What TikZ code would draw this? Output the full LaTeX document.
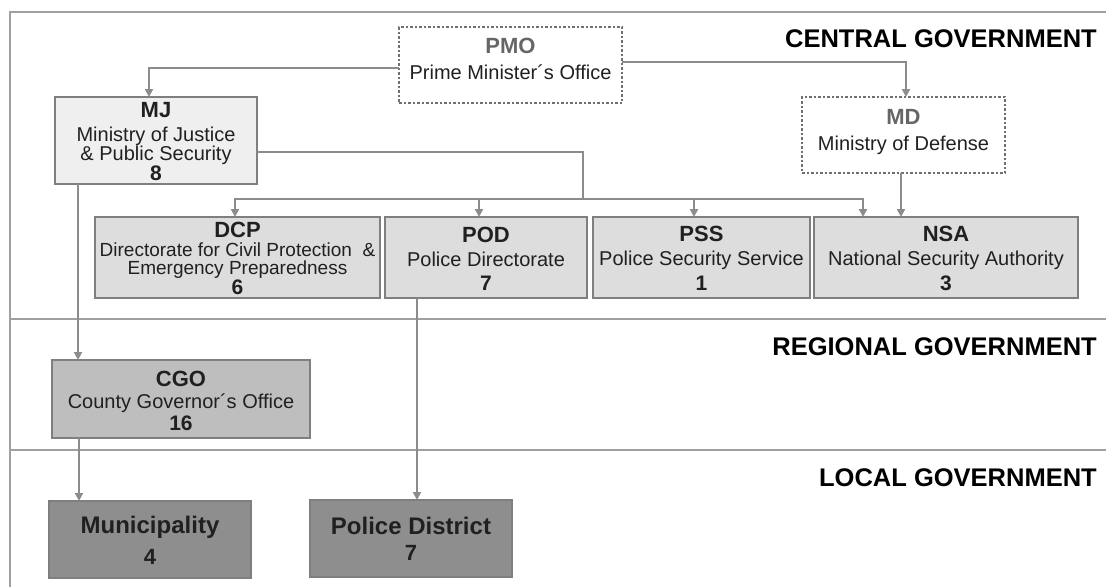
\documentclass[tikz,border=0pt]{standalone}
\usepackage{fontspec}
\setmainfont{Liberation Sans}
\usetikzlibrary{arrows.meta}
\definecolor{framecol}{HTML}{A0A0A0}
\definecolor{boxline}{HTML}{7F7F7F}
\definecolor{dashline}{HTML}{707070}
\definecolor{conncol}{HTML}{8C8C8C}
\definecolor{txtcol}{HTML}{202020}
\definecolor{greytitle}{HTML}{666666}
\definecolor{fillmj}{HTML}{EFEFEF}
\definecolor{fillcen}{HTML}{DDDDDD}
\definecolor{fillreg}{HTML}{BEBEBE}
\definecolor{filloc}{HTML}{8E8E8E}
\newcommand\regfont{\fontsize{20}{18}\selectfont}
\newcommand\smallreg{\fontsize{19}{17}\selectfont}
\newcommand\boxtitle{\fontsize{22}{22}\selectfont\bfseries}
\newcommand\boxnum{\fontsize{21}{21}\selectfont\bfseries}
\newcommand\loctitle{\fontsize{24}{24}\selectfont\bfseries}
\newcommand\locnum{\fontsize{22}{22}\selectfont\bfseries}
\newcommand\levelfont{\fontsize{25.5}{26}\selectfont\bfseries}
\begin{document}
\begin{tikzpicture}[x=1pt,y=-1pt,
  orgbox/.style={draw=boxline, line width=1.4pt, inner sep=0pt, outer sep=0pt},
  dashbox/.style={draw=dashline, line width=1.4pt, dash pattern=on 2.5pt off 2pt, inner sep=0pt, outer sep=0pt, fill=white},
  txt/.style={align=center, inner sep=0pt, text=txtcol, font=\regfont},
  conn/.style={draw=conncol, line width=2pt},
  arr/.style={conn, -{Triangle[length=8pt,width=8pt]}},
  level/.style={anchor=base east, inner sep=0pt, font=\levelfont, text=black},
  frameline/.style={draw=framecol, line width=1.5pt}]
\useasboundingbox (0,0) rectangle (1106,587);
% frame and level separators
\draw[frameline] (10,587) -- (10,12) -- (1106,12);
\draw[frameline] (10,319) -- (1106,319);
\draw[frameline] (10,450) -- (1106,450);
\node[level] (lc) at (1097,47) {CENTRAL GOVERNMENT};
\node[level] (lr) at (1097,355) {REGIONAL GOVERNMENT};
\node[level] (ll) at (1097,486) {LOCAL GOVERNMENT};
% boxes
\node[dashbox, minimum width=223, minimum height=76] (pmo) at (510.5,65) {};
\node[dashbox, minimum width=203, minimum height=76] (md) at (903.5,135) {};
\node[orgbox, fill=fillmj, minimum width=202, minimum height=87] (mj) at (156,140.5) {};
\node[orgbox, fill=fillcen, minimum width=285, minimum height=81] (dcp) at (237.5,257.5) {};
\node[orgbox, fill=fillcen, minimum width=202, minimum height=81] (pod) at (486,257.5) {};
\node[orgbox, fill=fillcen, minimum width=217, minimum height=81] (pss) at (701.5,257.5) {};
\node[orgbox, fill=fillcen, minimum width=264, minimum height=81] (nsa) at (946,257.5) {};
\node[orgbox, fill=fillreg, minimum width=258, minimum height=78] (cgo) at (181,399) {};
\node[orgbox, fill=filloc, minimum width=202, minimum height=77] (mun) at (150,539.5) {};
\node[orgbox, fill=filloc, minimum width=202, minimum height=77] (pd) at (411,538.5) {};
% texts
\node[txt] (pmo-t) at (510.5,59) {{\boxtitle\color{greytitle}PMO}\\[8pt]Prime Minister´s Office};
\node[txt] (md-t) at (903.5,132) {{\boxtitle\color{greytitle}MD}\\[7.6pt]Ministry of Defense};
\node[txt] (mj-t) at (156,141.6) {{\boxtitle MJ}\\[6pt]Ministry of Justice\\\& Public Security\\{\boxnum 8}};
\node[txt, font=\smallreg] (dcp-t) at (237.5,258.6) {{\boxtitle DCP}\\[2pt]Directorate for Civil Protection~~\&\\[1pt]Emergency Preparedness\\[1pt]{\boxnum 6}};
\node[txt] (pod-t) at (486,258.5) {{\boxtitle POD}\\[6pt]Police Directorate\\[6pt]{\boxnum 7}};
\node[txt] (pss-t) at (701.5,258.5) {{\boxtitle PSS}\\[6pt]Police Security Service\\[6pt]{\boxnum 1}};
\node[txt] (nsa-t) at (946,258.5) {{\boxtitle NSA}\\[6pt]National Security Authority\\[6pt]{\boxnum 3}};
\node[txt] (cgo-t) at (181,401) {{\boxtitle CGO}\\[4pt]County Governor´s Office\\[3pt]{\boxnum 16}};
\node[txt] (mun-t) at (150,540.2) {{\loctitle Municipality}\\[10.4pt]{\locnum 4}};
\node[txt] (pd-t) at (411,538.7) {{\loctitle Police District}\\[7.4pt]{\locnum 7}};
% connectors
\coordinate (hub) at (583,199);
\draw[arr] ([yshift=-3pt]pmo.west) -| ([xshift=-7pt]mj.north);
\draw[arr] ([yshift=3pt]pmo.east) -| ([xshift=2.5pt]md.north);
\draw[conn] ([yshift=-11.5pt]mj.east) -| (hub);
\draw[arr] (hub) -| ([xshift=-2.5pt]dcp.north);
\draw[arr] (hub) -| ([xshift=-7pt]pod.north);
\draw[arr] (hub) -| ([xshift=-7.5pt]pss.north);
\draw[arr] (hub) -| ([xshift=-83pt]nsa.north);
\draw[arr] ([xshift=-2.5pt]md.south) -- ([xshift=-45pt]nsa.north);
\draw[arr] ([xshift=-78pt]mj.south) -- ([xshift=-103pt]cgo.north);
\draw[arr] ([xshift=-102pt]cgo.south) -- ([xshift=-71pt]mun.north);
\draw[arr] ([xshift=-69pt]pod.south) -- ([xshift=6pt]pd.north);
\end{tikzpicture}
\end{document}
